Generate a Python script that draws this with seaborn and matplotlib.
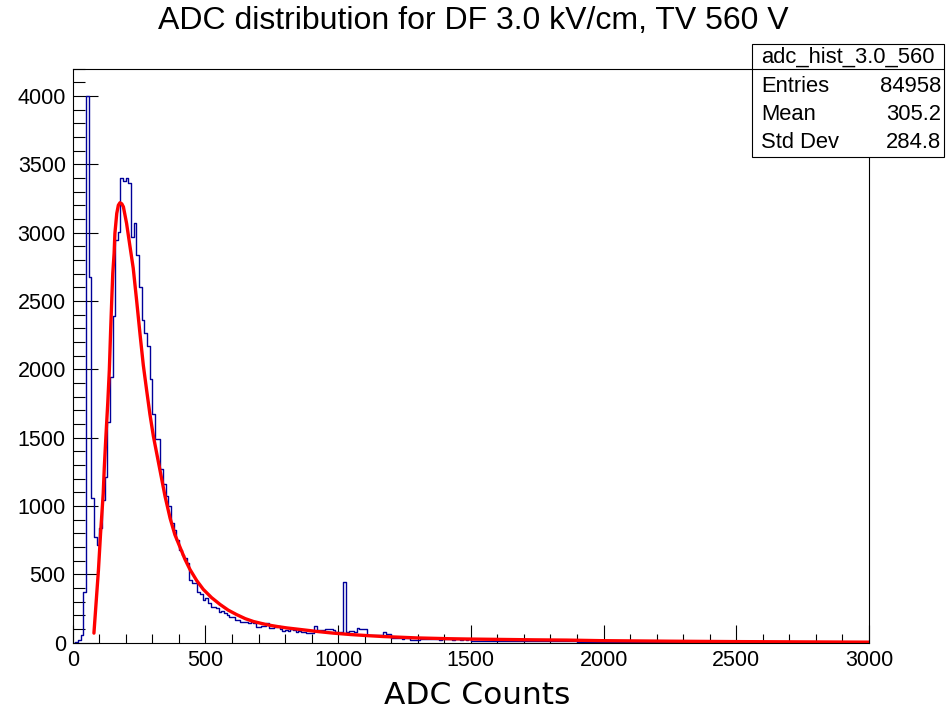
import numpy as np
import pandas as pd
import matplotlib
matplotlib.use("Agg")
import matplotlib.pyplot as plt
from matplotlib.ticker import MultipleLocator
from matplotlib.patches import Rectangle
from matplotlib.lines import Line2D
import seaborn as sns

# ---------------- data ----------------
bin_width = 10
x_min, x_max = 0, 3000

# counts per 10-ADC bin (bins 0-10, 10-20, ...)
counts_0_100 = [0, 7, 20, 56, 373, 4000, 2675, 1060, 775, 714]
counts_100_200 = [836, 1043, 1214, 1616, 1945, 2392, 2945, 3006, 3396, 3375]
counts_200_300 = [3396, 3359, 2969, 3067, 2835, 2604, 2360, 2262, 2172, 1926]
counts_300_400 = [1670, 1487, 1487, 1270, 1158, 1075, 1000, 873, 824, 751]
counts_400_500 = [678, 640, 617, 580, 458, 440, 434, 373, 354, 312]
counts_500_600 = [325, 288, 263, 263, 255, 227, 235, 215, 205, 190]
counts_600_700 = [185, 166, 166, 154, 150, 154, 145, 150, 142, 117]
counts_700_800 = [117, 120, 125, 142, 105, 110, 112, 120, 100, 88]
counts_800_900 = [90, 88, 98, 95, 80, 82, 78, 80, 70, 68]
counts_900_1000 = [69, 120, 93, 90, 92, 98, 97, 99, 96, 80]
counts_1000_1100 = [80, 78, 441, 80, 87, 86, 80, 105, 98, 97]
counts_1100_1200 = [98, 56, 56, 55, 57, 54, 56, 76, 62, 60]
counts_1200_1300 = [32, 34, 31, 33, 30, 32, 32, 20, 21, 20]
counts_1300_1400 = [20, 25, 26, 24, 25, 27, 24, 25, 23, 26]
counts_1400_1500 = [25, 24, 26, 23, 25, 24, 22, 25, 23, 24]
counts_1500_1600 = [15, 14, 16, 13, 15, 14, 16, 13, 14, 15]
counts_1600_1700 = [13, 14, 12, 15, 13, 12, 14, 13, 12, 14]
counts_1700_1800 = [12, 13, 11, 12, 14, 11, 12, 13, 11, 12]
counts_1800_1900 = [11, 12, 10, 11, 12, 10, 11, 10, 12, 10]
counts_1900_2000 = [7, 6, 8, 6, 7, 5, 6, 7, 6, 5]
counts_2000_2100 = [6, 5, 7, 5, 6, 5, 6, 4, 5, 6]
counts_2100_2200 = [5, 4, 6, 5, 4, 5, 5, 4, 6, 4]
counts_2200_2300 = [4, 5, 4, 4, 5, 3, 4, 5, 4, 3]
counts_2300_2400 = [4, 3, 4, 5, 3, 4, 3, 4, 3, 4]
counts_2400_2500 = [3, 4, 3, 3, 4, 3, 3, 2, 3, 4]
counts_2500_2600 = [3, 2, 3, 3, 2, 3, 2, 3, 3, 2]
counts_2600_2700 = [2, 3, 2, 2, 3, 2, 2, 3, 2, 2]
counts_2700_2800 = [2, 2, 3, 2, 2, 1, 2, 2, 3, 2]
counts_2800_2900 = [2, 1, 2, 2, 1, 2, 2, 1, 2, 1]
counts_2900_3000 = [1, 2, 1, 2, 1, 1, 2, 1, 1, 2]

counts = (counts_0_100 + counts_100_200 + counts_200_300 + counts_300_400 +
          counts_400_500 + counts_500_600 + counts_600_700 + counts_700_800 +
          counts_800_900 + counts_900_1000 + counts_1000_1100 + counts_1100_1200 +
          counts_1200_1300 + counts_1300_1400 + counts_1400_1500 + counts_1500_1600 +
          counts_1600_1700 + counts_1700_1800 + counts_1800_1900 + counts_1900_2000 +
          counts_2000_2100 + counts_2100_2200 + counts_2200_2300 + counts_2300_2400 +
          counts_2400_2500 + counts_2500_2600 + counts_2600_2700 + counts_2700_2800 +
          counts_2800_2900 + counts_2900_3000)

# fit curve points
fit_x = [80, 88, 97, 105, 115, 119, 125, 132, 138, 143, 148, 151, 156, 159, 166,
         172, 178, 185, 191, 203, 216, 228, 241, 254, 266, 279, 291, 304, 317, 329,
         348, 367, 385, 404, 423, 442, 467, 492, 523, 555, 586, 618, 650, 681, 713,
         744, 775, 807, 838, 869, 926, 982, 1045, 1108, 1171, 1234, 1296, 1359,
         1422, 1485, 1611, 1736, 1862, 1988, 2250, 2500, 2750, 3000]
fit_y = [70, 288, 532, 800, 1092, 1280, 1506, 1750, 1994, 2287, 2555, 2701, 2848,
         2994, 3140, 3200, 3218, 3210, 3188, 3067, 2896, 2740, 2500, 2250, 2030,
         1840, 1670, 1510, 1380, 1260, 1070, 910, 790, 700, 610, 535, 455, 390, 330,
         280, 238, 205, 176, 155, 140, 127, 117, 108, 101, 94, 81, 70, 60, 52, 45,
         40, 35, 32, 29, 27, 24, 21, 19, 15, 11, 8, 6, 4]

title = "ADC distribution for DF 3.0 kV/cm, TV 560 V"
x_label = "ADC Counts"
stats_name = "adc_hist_3.0_560"
stats_labels = ["Entries", "Mean", "Std Dev"]
stats_values = ["84958", "305.2", "284.8"]

# ---------------- plot ----------------
sns.set_style("white")
plt.rcParams['font.family'] = ['Liberation Sans', 'DejaVu Sans']
plt.rcParams.update({"text.color": "black", "axes.labelcolor": "black",
                     "xtick.color": "black", "ytick.color": "black"})

W, H = 947, 711
fig = plt.figure(figsize=(W / 100, H / 100), dpi=100)

def fx(px):
    return px / W

def fy(py):
    return 1 - py / H

ax_l, ax_r, ax_t, ax_b = 72.7, 869, 68.5, 642.7
ax = fig.add_axes([fx(ax_l), fy(ax_b), fx(ax_r) - fx(ax_l), fy(ax_t) - fy(ax_b)])

n_bins = len(counts)
centers = [x_min + bin_width * (i + 0.5) for i in range(n_bins)]
hist_df = pd.DataFrame({"adc": centers, "n": counts})
sns.histplot(data=hist_df, x="adc", weights="n", bins=n_bins,
             binrange=(x_min, x_max), element="step", fill=False,
             color="#000099", linewidth=1.0, ax=ax)
fit_df = pd.DataFrame({"adc": fit_x, "f": fit_y})
sns.lineplot(data=fit_df, x="adc", y="f", color="#ff0000", linewidth=2.4,
             ax=ax, sort=False)

ax.set_xlim(x_min, x_max)
ax.set_ylim(0, 4200)
ax.set_ylabel("")
ax.set_xlabel(x_label, fontsize=22.5, family="DejaVu Sans", color="black")
ax.xaxis.set_label_coords(0.508, -0.066)

ax.xaxis.set_major_locator(MultipleLocator(500))
ax.xaxis.set_minor_locator(MultipleLocator(100))
ax.yaxis.set_major_locator(MultipleLocator(500))
ax.yaxis.set_minor_locator(MultipleLocator(100))
ax.tick_params(axis="both", which="both", direction="in", colors="black",
               width=0.8, labelsize=15.5, bottom=True, left=True,
               top=False, right=False)
ax.tick_params(axis="x", which="major", length=13, pad=5)
ax.tick_params(axis="x", which="minor", length=6.5)
ax.tick_params(axis="y", which="major", length=17.8, pad=5)
ax.tick_params(axis="y", which="minor", length=8.9)
for s in ax.spines.values():
    s.set_visible(True)
    s.set_color("black")
    s.set_linewidth(0.8)

fig.text(0.5, fy(21), title, ha="center", va="center", fontsize=23,
         color="black")

# stats box
bl, br, bt, bb, bsep = 752, 944, 44, 157, 69
fig.add_artist(Rectangle((fx(bl), fy(bb)), fx(br) - fx(bl), fy(bt) - fy(bb),
                         transform=fig.transFigure, facecolor="white",
                         edgecolor="black", linewidth=0.8, zorder=5))
fig.add_artist(Line2D([fx(bl), fx(br)], [fy(bsep), fy(bsep)],
                      transform=fig.transFigure, color="black", linewidth=0.8,
                      zorder=6))
fig.text(fx((bl + br) / 2), fy(57), stats_name, ha="center", va="center",
         fontsize=15.8, zorder=7, color="black")
for i, (lab, val) in enumerate(zip(stats_labels, stats_values)):
    yy = fy(86 + i * 28.5)
    fig.text(fx(761), yy, lab, ha="left", va="center", fontsize=15.8, zorder=7,
             color="black")
    fig.text(fx(941), yy, val, ha="right", va="center", fontsize=15.8, zorder=7,
             color="black")

fig.savefig("out.png", dpi=100)
